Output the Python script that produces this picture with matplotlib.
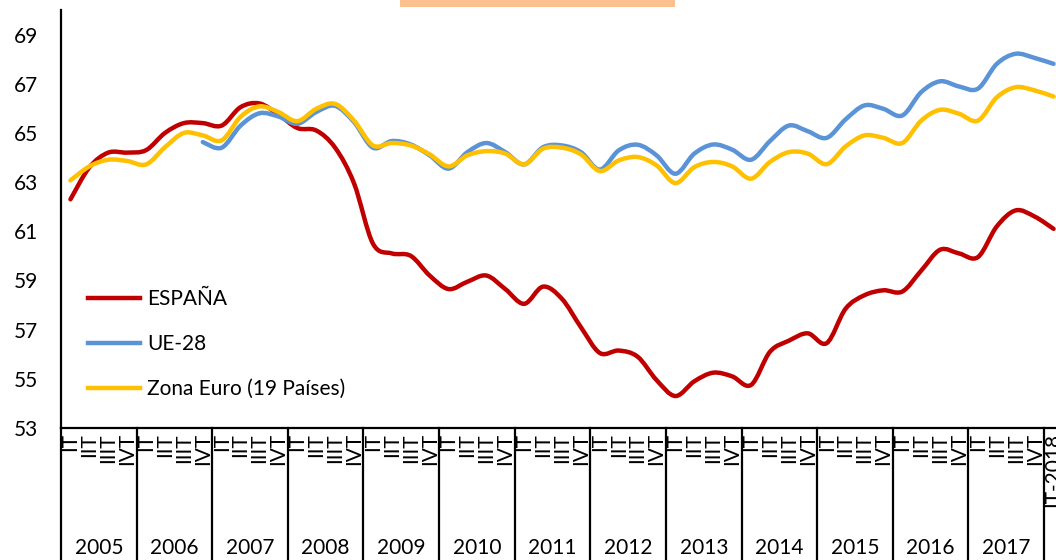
import numpy as np
import matplotlib.pyplot as plt
from matplotlib.path import Path
from matplotlib.patches import PathPatch, Rectangle
from matplotlib.lines import Line2D
import matplotlib.transforms as mtransforms

plt.rcParams['font.family'] = ['Lato', 'DejaVu Sans']

# Quarterly data, 2005 IT .. 2018 IT
years = [str(y) for y in range(2005, 2018)]
quarters = ["IT", "IIT", "IIIT", "IVT"]
last_label = "IT-2018"

espana = [62.3, 63.6, 64.2, 64.2, 64.3, 65.0, 65.4, 65.4, 65.3, 66.05, 66.2, 65.75,
          65.2, 65.1, 64.4, 62.95, 60.5, 60.1, 60.0, 59.2, 58.65, 58.95, 59.2, 58.65,
          58.05, 58.75, 58.25, 57.1, 56.05, 56.15, 55.9, 54.95, 54.3, 54.9, 55.25, 55.1,
          54.75, 56.1, 56.55, 56.85, 56.45, 57.85, 58.4, 58.6, 58.55, 59.4, 60.25, 60.1,
          59.95, 61.2, 61.85, 61.6, 61.1]
ue28 = [np.nan] * 7 + [64.63, 64.4, 65.3, 65.8, 65.67, 65.37, 65.85, 66.1, 65.44,
                       64.4, 64.67, 64.53, 64.09, 63.55, 64.22, 64.59, 64.22, 63.72,
                       64.42, 64.49, 64.22, 63.51, 64.29, 64.52, 64.09, 63.34, 64.16,
                       64.53, 64.32, 63.91, 64.67, 65.3, 65.07, 64.8, 65.55, 66.12,
                       65.98, 65.71, 66.66, 67.1, 66.89, 66.8, 67.81, 68.22, 68.05, 67.81]
euro = [63.07, 63.64, 63.91, 63.86, 63.72, 64.42, 65.0, 64.9, 64.7, 65.66, 66.08, 65.85,
        65.48, 65.98, 66.18, 65.5, 64.49, 64.59, 64.49, 64.13, 63.64, 64.09, 64.26, 64.16,
        63.72, 64.36, 64.4, 64.13, 63.45, 63.88, 64.02, 63.68, 62.96, 63.61, 63.82, 63.64,
        63.14, 63.82, 64.22, 64.16, 63.73, 64.45, 64.9, 64.8, 64.59, 65.5, 65.94, 65.78,
        65.5, 66.45, 66.86, 66.73, 66.48]

series = [("ESPAÑA", espana, "#C00000"),
          ("UE-28", ue28, "#5B93D7"),
          ("Zona Euro (19 Países)", euro, "#FFC000")]

FS = 15


def smooth_path(xs, ys):
    """Bezier path through the points (Excel-style smoothed line)."""
    pts = np.column_stack([xs, ys])
    verts = [pts[0]]
    codes = [Path.MOVETO]
    n = len(pts)
    for i in range(n - 1):
        p0 = pts[max(i - 1, 0)]
        p1 = pts[i]
        p2 = pts[i + 1]
        p3 = pts[min(i + 2, n - 1)]
        verts += [p1 + (p2 - p0) / 6.0, p2 - (p3 - p1) / 6.0, p2]
        codes += [Path.CURVE4] * 3
    return Path(verts, codes)


n = len(espana)
xpos = np.arange(n) + 0.5

fig = plt.figure(figsize=(10.56, 5.6), dpi=100)
ax = fig.add_axes([61 / 1056, 132 / 560, 1002 / 1056, 418 / 560])

handles = []
for name, vals, col in series:
    v = np.array(vals, dtype=float)
    ok = ~np.isnan(v)
    path = smooth_path(xpos[ok], v[ok])
    ax.add_patch(PathPatch(path, facecolor="none", edgecolor=col, lw=3.2,
                           capstyle="round", joinstyle="round", zorder=3))
    handles.append(Line2D([], [], color=col, lw=3.2, label=name))

ax.set_xlim(0, n)
ax.set_ylim(53, 70)
ax.set_yticks(np.arange(53, 70, 2))
ax.tick_params(axis="y", length=0, labelsize=FS, pad=16.5)
ax.set_xticks([])
for s in ["top", "right"]:
    ax.spines[s].set_visible(False)
for s in ["left", "bottom"]:
    ax.spines[s].set_linewidth(1.6)
    ax.spines[s].set_color("black")

# category axis labels
trans = mtransforms.blended_transform_factory(ax.transData, ax.transAxes)
for k in range(len(years)):
    for q, ql in enumerate(quarters):
        ax.text(4 * k + q + 0.5, -0.012, ql, rotation=90, ha="center", va="top",
                fontsize=FS, transform=trans)
    ax.text(4 * k + 2, -0.287, years[k], ha="center", va="center",
            fontsize=FS, transform=trans)
ax.text(n - 0.5, -0.012, last_label, rotation=90, ha="center", va="top",
        fontsize=FS, transform=trans)
for k in range(len(years) + 1):
    ax.plot([4 * k, 4 * k], [0, -0.33], color="black", lw=1.6,
            transform=trans, clip_on=False)

ax.legend(handles=handles, loc="upper left", bbox_to_anchor=(0.027, 0.332),
          frameon=False, fontsize=FS, handlelength=2.5, handletextpad=0.35,
          labelspacing=1.2, borderpad=0, borderaxespad=0)

# title box (cut at the top of the picture)
fig.patches.append(Rectangle((400 / 1056, 1 - 6.5 / 560), 275 / 1056, 6.5 / 560,
                             transform=fig.transFigure, facecolor="#FAC090",
                             edgecolor="none"))

fig.savefig("out.png", dpi=100)
